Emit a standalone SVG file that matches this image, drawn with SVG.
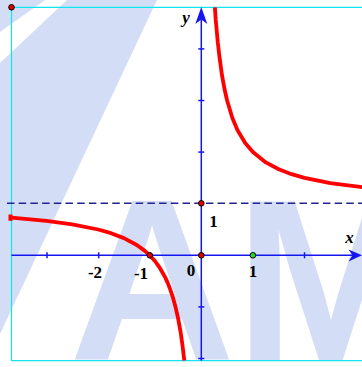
<svg xmlns="http://www.w3.org/2000/svg" width="362" height="367" viewBox="0 0 362 367">
<style>
.wm{fill:#d3def6}
.frame{stroke:#10e6f0;stroke-width:1.2;fill:none}
.axis{stroke:#1515f0;stroke-width:1.5;fill:none}
.tick{stroke:#1515f0;stroke-width:1.5}
.curve{stroke:#ff0000;stroke-width:3.8;fill:none;stroke-linejoin:round}
.asym{stroke:#23238f;stroke-width:1.4;stroke-dasharray:7.5 4.2;fill:none}
.dot{stroke:#000;stroke-width:1}
.lab{font-family:"Liberation Serif","Times New Roman",serif;font-weight:bold;font-size:17px;fill:#000;text-anchor:middle}
.it{font-style:italic}
</style>
<g id="watermark">
<polygon class="wm" points="0,0 45,0 0,32"/>
<polygon class="wm" points="67,0 157,0 0,334 0,63"/>
<text x="69" y="360" font-family="Liberation Sans, Arial, sans-serif" font-weight="bold" font-size="230" class="wm">AM</text>
</g>
<g id="frame">
<path class="frame" d="M11.5,361 V7.3 H362 M11.5,360.7 H362"/>
</g>
<g id="connectors">
<line class="asym" x1="7" y1="203.3" x2="362" y2="203.3"/>
<line class="axis" x1="11.5" y1="255.3" x2="358" y2="255.3"/>
<path d="M362,255.3 L348.5,249.5 L352.5,255.3 L348.5,261.5 Z" fill="#1515f0"/>
<line class="axis" x1="201.3" y1="360.7" x2="201.3" y2="12"/>
<path d="M201.3,7 L195.3,24 L201.3,19.5 L207.3,24 Z" fill="#1515f0"/>
<g>
<line class="tick" x1="47" y1="252.3" x2="47" y2="258.3"/>
<line class="tick" x1="98.7" y1="252.3" x2="98.7" y2="258.3"/>
<line class="tick" x1="304.5" y1="252.3" x2="304.5" y2="258.3"/>
<line class="tick" x1="198.3" y1="152.1" x2="204.3" y2="152.1"/>
<line class="tick" x1="198.3" y1="100.5" x2="204.3" y2="100.5"/>
<line class="tick" x1="198.3" y1="48.9" x2="204.3" y2="48.9"/>
<line class="tick" x1="198.3" y1="306.9" x2="204.3" y2="306.9"/>
<line class="tick" x1="198.3" y1="358.5" x2="204.3" y2="358.5"/>
</g>
</g>
<g id="graph">
<polyline class="curve" points="214.9,7.3 215.7,19.4 217.8,42.4 219.4,56.3 221.9,74.7 224.5,89.0 227.1,100.5 232.3,117.7 237.4,130.0 245.2,143.0 252.9,152.1 265.8,162.4 278.7,169.3 291.6,174.2 304.5,177.9 330.3,183.1 362.3,187.2"/>
<polyline class="curve" points="11.4,217.7 46.5,220.9 72.3,224.3 98.1,229.5 111.0,233.2 123.9,238.1 136.8,245.0 144.5,250.6 149.7,255.3 154.9,261.0 160.0,268.2 165.2,277.4 167.8,283.1 170.3,289.7 172.9,297.5 175.5,306.9 178.1,318.4 180.7,332.7 182.7,347.0 184.3,360.5"/>
<rect x="8.5" y="214.5" width="4" height="6.3" fill="#ff0000"/>
</g>
<g id="points">
<circle class="dot" cx="11.5" cy="7.3" r="2.8" fill="#e00000"/>
<circle class="dot" cx="201.3" cy="203.3" r="2.8" fill="#e00000"/>
<circle class="dot" cx="201.3" cy="255.3" r="2.8" fill="#e00000"/>
<circle class="dot" cx="149.8" cy="255.3" r="2.8" fill="#e00000"/>
<circle class="dot" cx="252.9" cy="255.3" r="2.8" fill="#22dd22"/>
</g>
<g id="labels">
<text class="lab it" x="186" y="23">y</text>
<text class="lab it" x="349.5" y="243.3">x</text>
<text class="lab" x="213.5" y="227">1</text>
<text class="lab" x="191" y="276">0</text>
<text class="lab" x="253" y="277">1</text>
<text class="lab" x="95" y="277.5">-2</text>
<text class="lab" x="141" y="278.5">-1</text>
</g>
</svg>
